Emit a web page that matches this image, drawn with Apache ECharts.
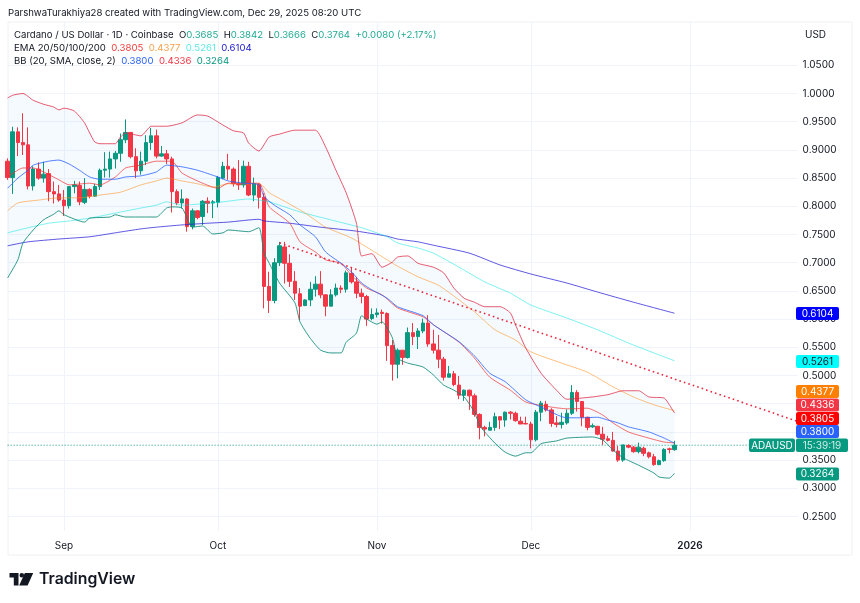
<!DOCTYPE html>
<html lang="en">
<head>
<meta charset="utf-8">
<title>ADAUSD</title>
<script src="https://cdn.jsdelivr.net/npm/echarts@6/dist/echarts.min.js"></script>
<style>
  html, body { margin: 0; padding: 0; background: #fff; }
  #main { width: 860px; height: 603px; }
</style>
</head>
<body>
<div id="main"></div>
<script>
// daily candles, Aug 21 2025 - Dec 29 2025
var opens = [
  .880,.851,.932,.913,.909,.836,.866,.850,.858,.826,
  .822,.811,.801,.835,.837,.807,.830,.818,.835,.864,
  .866,.884,.894,.918,.931,.888,.863,.880,.913,.925,
  .889,.893,.884,.826,.806,.813,.764,.792,.782,.809,
  .806,.807,.850,.871,.866,.840,.838,.871,.820,.839,
  .816,.658,.633,.700,.728,.699,.667,.645,.624,.634,
  .653,.662,.643,.623,.643,.655,.653,.681,.666,.646,
  .640,.601,.608,.612,.610,.553,.520,.545,.532,.576,
  .569,.579,.593,.556,.545,.529,.497,.503,.483,.465,
  .474,.464,.431,.408,.403,.408,.427,.421,.435,.433,
  .419,.415,.414,.386,.435,.449,.439,.416,.413,.416,
  .433,.470,.454,.426,.409,.410,.396,.388,.385,.366,
  .350,.376,.373,.365,.371,.363,.356,.342,.349,.370,.3685];
var closes = [
  .851,.932,.913,.909,.836,.866,.850,.857,.826,.822,
  .811,.801,.835,.838,.808,.830,.818,.835,.864,.866,
  .884,.894,.918,.931,.888,.863,.880,.913,.925,.889,
  .893,.884,.826,.806,.813,.764,.792,.780,.809,.805,
  .808,.851,.871,.866,.840,.838,.871,.820,.840,.816,
  .658,.633,.700,.730,.699,.667,.646,.623,.634,.653,
  .662,.643,.623,.643,.655,.653,.682,.666,.646,.640,
  .600,.608,.611,.610,.553,.520,.545,.532,.576,.569,
  .579,.593,.556,.545,.529,.497,.503,.484,.465,.474,
  .464,.431,.408,.405,.408,.427,.421,.435,.433,.420,
  .414,.414,.386,.435,.451,.439,.415,.413,.417,.433,
  .470,.454,.426,.408,.411,.396,.387,.385,.366,.350,
  .377,.373,.365,.373,.362,.356,.342,.349,.369,.369,.3764];
var lows = [
  .847,.822,.889,.891,.830,.828,.847,.842,.809,.805,
  .808,.783,.796,.823,.802,.804,.814,.817,.829,.851,
  .851,.867,.879,.912,.885,.850,.856,.873,.900,.885,
  .888,.875,.789,.802,.796,.755,.759,.777,.767,.788,
  .779,.798,.848,.847,.835,.829,.833,.818,.809,.796,
  .619,.611,.628,.694,.663,.657,.634,.598,.623,.623,
  .640,.637,.605,.623,.640,.646,.647,.663,.637,.628,
  .588,.598,.603,.592,.526,.491,.495,.519,.530,.554,
  .547,.575,.551,.539,.513,.491,.497,.481,.458,.455,
  .439,.427,.387,.392,.403,.402,.405,.409,.422,.418,
  .414,.414,.371,.383,.419,.436,.409,.408,.406,.413,
  .430,.436,.410,.403,.407,.394,.377,.383,.365,.347,
  .347,.371,.363,.362,.357,.353,.340,.341,.347,.362,.3666];
var highs = [
  .885,.941,.940,.965,.940,.871,.878,.879,.866,.844,
  .838,.829,.835,.845,.844,.850,.832,.840,.867,.896,
  .897,.898,.929,.954,.931,.903,.897,.926,.939,.936,
  .907,.900,.888,.830,.830,.814,.796,.793,.811,.816,
  .811,.854,.879,.893,.869,.882,.881,.879,.851,.841,
  .823,.684,.708,.737,.737,.715,.685,.655,.635,.666,
  .676,.685,.644,.653,.663,.660,.686,.692,.675,.654,
  .643,.619,.619,.617,.612,.563,.548,.545,.585,.593,
  .584,.601,.607,.581,.572,.533,.517,.508,.499,.475,
  .475,.468,.433,.411,.418,.434,.428,.436,.437,.436,
  .427,.427,.418,.439,.455,.455,.442,.428,.434,.440,
  .483,.474,.454,.427,.415,.410,.409,.393,.400,.375,
  .377,.378,.375,.381,.374,.365,.361,.351,.371,.372,.3842];

// indicators as [candle index, price]
var bbUpper = [[0,.992],[1,.997],[3,1.000],[5,.988],[7,.981],[9,.976],[10,.971],[11,.974],[13,.969],[15,.948],[16,.930],[17,.914],[18,.911],[21,.911],[22,.923],[23,.930],[26,.925],[28,.942],[31,.942],[34,.948],[37,.962],[39,.960],[42,.944],[44,.934],[46,.930],[47,.912],[49,.898],[51,.923],[53,.928],[56,.935],[60,.935],[62,.905],[64,.864],[66,.824],[68,.770],[69,.712],[71,.716],[73,.692],[75,.701],[76,.710],[78,.712],[80,.699],[83,.692],[85,.682],[87,.655],[89,.637],[91,.630],[93,.622],[96,.622],[98,.611],[99,.590],[101,.549],[104,.504],[107,.474],[109,.458],[114,.462],[117,.466],[120,.473],[123,.473],[125,.462],[128,.460],[129,.448],[130,.4336]];
var bbLower = [[0,.673],[2,.705],[3,.735],[5,.758],[7,.776],[9,.786],[10,.792],[11,.785],[15,.772],[16,.779],[20,.781],[21,.785],[23,.781],[26,.781],[29,.781],[31,.797],[32,.799],[34,.797],[36,.763],[38,.765],[40,.751],[42,.753],[43,.758],[47,.755],[49,.762],[50,.717],[51,.699],[53,.664],[56,.629],[57,.595],[59,.566],[61,.545],[63,.540],[65,.540],[66,.559],[68,.575],[69,.606],[70,.600],[72,.591],[73,.595],[75,.567],[76,.531],[78,.522],[81,.515],[83,.501],[85,.483],[87,.474],[89,.462],[91,.435],[92,.412],[93,.400],[95,.380],[97,.364],[99,.357],[101,.363],[102,.363],[104,.379],[107,.384],[109,.389],[114,.391],[116,.386],[118,.368],[120,.354],[123,.341],[126,.327],[127,.320],[129,.318],[130,.3264]];
var bbBasis = [[0,.832],[2,.850],[4,.864],[5,.873],[8,.880],[10,.882],[12,.875],[14,.864],[16,.852],[18,.848],[21,.848],[23,.852],[26,.854],[29,.861],[31,.873],[34,.870],[37,.864],[41,.852],[43,.845],[46,.841],[49,.838],[50,.817],[52,.802],[55,.785],[57,.767],[60,.746],[62,.719],[65,.699],[67,.684],[69,.664],[71,.652],[74,.637],[76,.622],[81,.606],[83,.590],[88,.560],[91,.535],[94,.504],[97,.489],[101,.457],[104,.444],[109,.425],[112,.425],[115,.426],[117,.421],[119,.416],[121,.409],[125,.400],[128,.389],[130,.3800]];
var ema20 = [[0,.852],[3,.868],[5,.868],[7,.861],[10,.847],[12,.838],[16,.841],[18,.838],[21,.852],[23,.868],[26,.873],[29,.880],[32,.880],[34,.859],[38,.841],[41,.832],[43,.841],[46,.841],[49,.841],[50,.824],[51,.799],[55,.770],[57,.737],[60,.719],[62,.705],[65,.699],[67,.678],[70,.655],[73,.643],[76,.620],[81,.604],[83,.590],[88,.559],[91,.531],[94,.497],[98,.474],[101,.453],[106,.444],[109,.441],[110,.441],[113,.442],[116,.430],[118,.416],[121,.400],[125,.389],[128,.382],[130,.3805]];
var ema50 = [[0,.792],[2,.806],[6,.811],[10,.815],[14,.815],[18,.820],[22,.825],[26,.838],[29,.845],[31,.850],[34,.845],[37,.840],[40,.834],[43,.840],[49,.840],[50,.834],[51,.824],[54,.809],[58,.788],[62,.763],[67,.744],[71,.722],[74,.705],[76,.694],[80,.675],[84,.660],[88,.634],[91,.613],[95,.581],[99,.563],[102,.542],[108,.522],[113,.506],[118,.480],[122,.462],[126,.448],[130,.4377]];
var ema100 = [[0,.753],[4,.762],[8,.770],[12,.774],[16,.779],[21,.788],[26,.797],[29,.802],[31,.808],[34,.802],[42,.808],[47,.813],[49,.811],[51,.808],[57,.790],[63,.776],[69,.762],[74,.746],[76,.735],[80,.726],[83,.717],[88,.692],[93,.666],[98,.646],[102,.625],[109,.602],[115,.581],[122,.554],[130,.5261]];
var ema200 = [[0,.730],[4,.737],[10,.742],[16,.746],[21,.753],[26,.760],[29,.763],[34,.767],[39,.770],[43,.772],[49,.777],[50,.774],[55,.770],[61,.763],[68,.756],[74,.747],[76,.742],[80,.737],[83,.731],[90,.717],[96,.696],[102,.680],[109,.664],[115,.648],[122,.630],[130,.6104]];
var trendLine = [[53,.7352],[154,.4186]];
var priceLine = [[0,.3764],[154,.3764]];

// axes
var dayCount = 155;
var monthIdx = [11, 41, 72, 102, 133];
var monthLabels = ['Sep', 'Oct', 'Nov', 'Dec', '2026'];
var priceTicks = [1.05, 1, .95, .9, .85, .8, .75, .7, .65, .6, .55, .5, .45, .4, .35, .3, .25];
var priceLabels = [1.05, 1, .95, .9, .85, .8, .75, .7, .65, .6, .55, .5, .35, .3, .25];

// price tags on the right scale
var tagTexts = ['0.6104', '0.5261', '0.4377', '0.4336', '0.3805', '0.3800', '0.3264'];
var tagFills = ['#0000ff', '#00ffff', '#ff8000', '#f23645', '#ff0000', '#2962ff', '#089981'];
var tagInks = ['#fff', '#131722', '#fff', '#fff', '#fff', '#fff', '#fff'];
var tagTops = [307, 355, 385, 398.5, 412, 425, 467.5];

var FONT = 'Inter, "Liberation Sans", sans-serif';
var LEGEND_SIZE = 9.6;
var UP = '#089981', DOWN = '#f23645';

var days = [];
for (var d = 0; d < dayCount; d++) {
  days.push(new Date(Date.UTC(2025, 7, 21 + d)).toISOString().slice(0, 10));
}

function lineSeries(name, points, color, opacity) {
  return {
    name: name, type: 'line', data: points, showSymbol: false, smooth: 0.2,
    silent: true, z: 4,
    lineStyle: { color: color, width: 1, opacity: opacity }
  };
}

function legendSpan(color) {
  return { fontFamily: FONT, fontSize: LEGEND_SIZE, color: color };
}

var myChart = echarts.init(document.getElementById('main'));

var graphics = [
  // outer frame
  { type: 'rect', shape: { x: 8, y: 22, width: 844, height: 533 }, style: { fill: 'none', stroke: '#eef0f4', lineWidth: 1 }, z: 0 }
];
for (var t = 0; t < tagTexts.length; t++) {
  graphics.push({ type: 'rect', shape: { x: 796, y: tagTops[t], width: 43, height: 13, r: 2 }, style: { fill: tagFills[t] }, z: 20 });
  graphics.push({ type: 'text', style: { text: tagTexts[t], x: 817.5, y: tagTops[t] + 6.7, align: 'center', verticalAlign: 'middle', fill: tagInks[t], font: '10px ' + FONT }, z: 21 });
}
// symbol and countdown for the last price
graphics.push({ type: 'rect', shape: { x: 749, y: 438.5, width: 46, height: 13.5, r: 2 }, style: { fill: UP }, z: 20 });
graphics.push({ type: 'text', style: { text: 'ADAUSD', x: 772, y: 445.5, align: 'center', verticalAlign: 'middle', fill: '#fff', font: '10px ' + FONT }, z: 21 });
graphics.push({ type: 'rect', shape: { x: 796, y: 438.5, width: 52, height: 13.5, r: 2 }, style: { fill: UP }, z: 20 });
graphics.push({ type: 'text', style: { text: '15:39:19', x: 822, y: 445.5, align: 'center', verticalAlign: 'middle', fill: '#cfeee8', font: '10px ' + FONT }, z: 21 });
// logo
graphics.push({ type: 'polygon', shape: { points: [[9.5, 573], [18.5, 573], [18.5, 585.5], [13.8, 585.5], [13.8, 577.6], [9.5, 577.6]] }, style: { fill: '#131722' }, z: 20 });
graphics.push({ type: 'circle', shape: { cx: 21.8, cy: 575.3, r: 2.3 }, style: { fill: '#131722' }, z: 20 });
graphics.push({ type: 'polygon', shape: { points: [[24.8, 573], [33.2, 573], [27.6, 585.5], [19.2, 585.5]] }, style: { fill: '#131722' }, z: 20 });
graphics.push({ type: 'text', style: { text: 'TradingView', x: 39, y: 579.3, verticalAlign: 'middle', fill: '#131722', font: '600 15.8px ' + FONT }, z: 20 });

var option = {
  animation: false,
  backgroundColor: '#fff',
  title: [
    { text: 'ParshwaTurakhiya28 created with TradingView.com, Dec 29, 2025 08:20 UTC', left: 8, top: 8, padding: 0, textStyle: { fontFamily: FONT, fontSize: LEGEND_SIZE, fontWeight: 'normal', color: '#131722' } },
    {
      text: 'Cardano / US Dollar · 1D · Coinbase  O{g|0.3685}  H{g|0.3842}  L{g|0.3666}  C{g|0.3764}  {g|+0.0080 (+2.17%)}',
      left: 14, top: 30, padding: 0,
      textStyle: { fontFamily: FONT, fontSize: LEGEND_SIZE, fontWeight: 'normal', color: '#131722', rich: { g: legendSpan('#22ab94') } }
    },
    {
      text: 'EMA 20/50/100/200  {a|0.3805}  {b|0.4377}  {c|0.5261}  {d|0.6104}',
      left: 14, top: 43.5, padding: 0,
      textStyle: {
        fontFamily: FONT, fontSize: LEGEND_SIZE, fontWeight: 'normal', color: '#131722',
        rich: { a: legendSpan('#f23c3c'), b: legendSpan('#f7a24b'), c: legendSpan('#5fe8e8'), d: legendSpan('#1a1ad0') }
      }
    },
    {
      text: 'BB (20, SMA, close, 2)  {a|0.3800}  {b|0.4336}  {c|0.3264}',
      left: 14, top: 56.5, padding: 0,
      textStyle: {
        fontFamily: FONT, fontSize: LEGEND_SIZE, fontWeight: 'normal', color: '#131722',
        rich: { a: legendSpan('#2962ff'), b: legendSpan('#f23645'), c: legendSpan('#089981') }
      }
    },
    { text: 'USD', left: 805, top: 30, padding: 0, textStyle: { fontFamily: FONT, fontSize: 10, fontWeight: 'normal', color: '#131722' } }
  ],
  grid: { left: 7.6, top: 22, width: 790, height: 509 },
  xAxis: {
    type: 'category',
    data: days,
    boundaryGap: false,
    axisLine: { show: false },
    axisTick: { show: false },
    axisLabel: {
      interval: function (i) { return monthIdx.indexOf(i) >= 0; },
      formatter: function (v, i) {
        var label = monthLabels[monthIdx.indexOf(i)];
        return label === '2026' ? '{y|2026}' : label;
      },
      rich: { y: { fontFamily: FONT, fontSize: 10, fontWeight: 600, color: '#131722' } },
      fontFamily: FONT, fontSize: 10, color: '#131722', margin: 10
    },
    splitLine: {
      show: true,
      interval: function (i) { return monthIdx.indexOf(i) >= 0; },
      lineStyle: { color: '#f0f3fa', width: 1 }
    }
  },
  yAxis: {
    type: 'value',
    position: 'right',
    min: 0.2243,
    max: 1.1268,
    axisLine: { show: false },
    axisTick: { show: false, customValues: priceTicks },
    axisLabel: {
      customValues: priceLabels,
      formatter: function (v) { return v.toFixed(4); },
      fontFamily: FONT, fontSize: 10, color: '#131722', margin: 5, padding: [2, 0, 0, 0]
    },
    splitLine: { show: true, lineStyle: { color: '#f0f3fa', width: 1 } }
  },
  series: [
    {
      // band fill between the two outer Bollinger lines
      type: 'custom',
      data: [0],
      clip: true,
      silent: true,
      z: 1,
      renderItem: function (params, api) {
        var pts = bbUpper.map(function (p) { return api.coord(p); });
        bbLower.slice().reverse().forEach(function (p) { pts.push(api.coord(p)); });
        return { type: 'polygon', shape: { points: pts }, style: { fill: 'rgba(33,150,243,0.045)' } };
      }
    },
    {
      type: 'candlestick',
      z: 3,
      barWidth: 4,
      silent: true,
      data: opens.map(function (o, i) { return [o, closes[i], lows[i], highs[i]]; }),
      itemStyle: { color: UP, color0: DOWN, borderColor: UP, borderColor0: DOWN, borderWidth: 1 }
    },
    {
      name: 'Last price', type: 'line', data: priceLine, showSymbol: false, silent: true, z: 2,
      lineStyle: { color: UP, width: 1, type: [1, 2] }
    },
    lineSeries('EMA 200', ema200, '#2a20d8', 0.75),
    lineSeries('EMA 100', ema100, '#00e5e5', 0.5),
    lineSeries('EMA 50', ema50, '#ff8c1a', 0.55),
    lineSeries('EMA 20', ema20, '#f23030', 0.7),
    lineSeries('BB basis', bbBasis, '#2962ff', 0.8),
    lineSeries('BB upper', bbUpper, '#e0304a', 0.8),
    lineSeries('BB lower', bbLower, '#0a8a75', 0.85),
    {
      name: 'Trend', type: 'line', data: trendLine, showSymbol: false, silent: true, z: 5,
      lineStyle: { color: '#e8283c', width: 1.6, type: [1.6, 3.1] }
    }
  ],
  graphic: graphics
};

myChart.setOption(option);
</script>
</body>
</html>
